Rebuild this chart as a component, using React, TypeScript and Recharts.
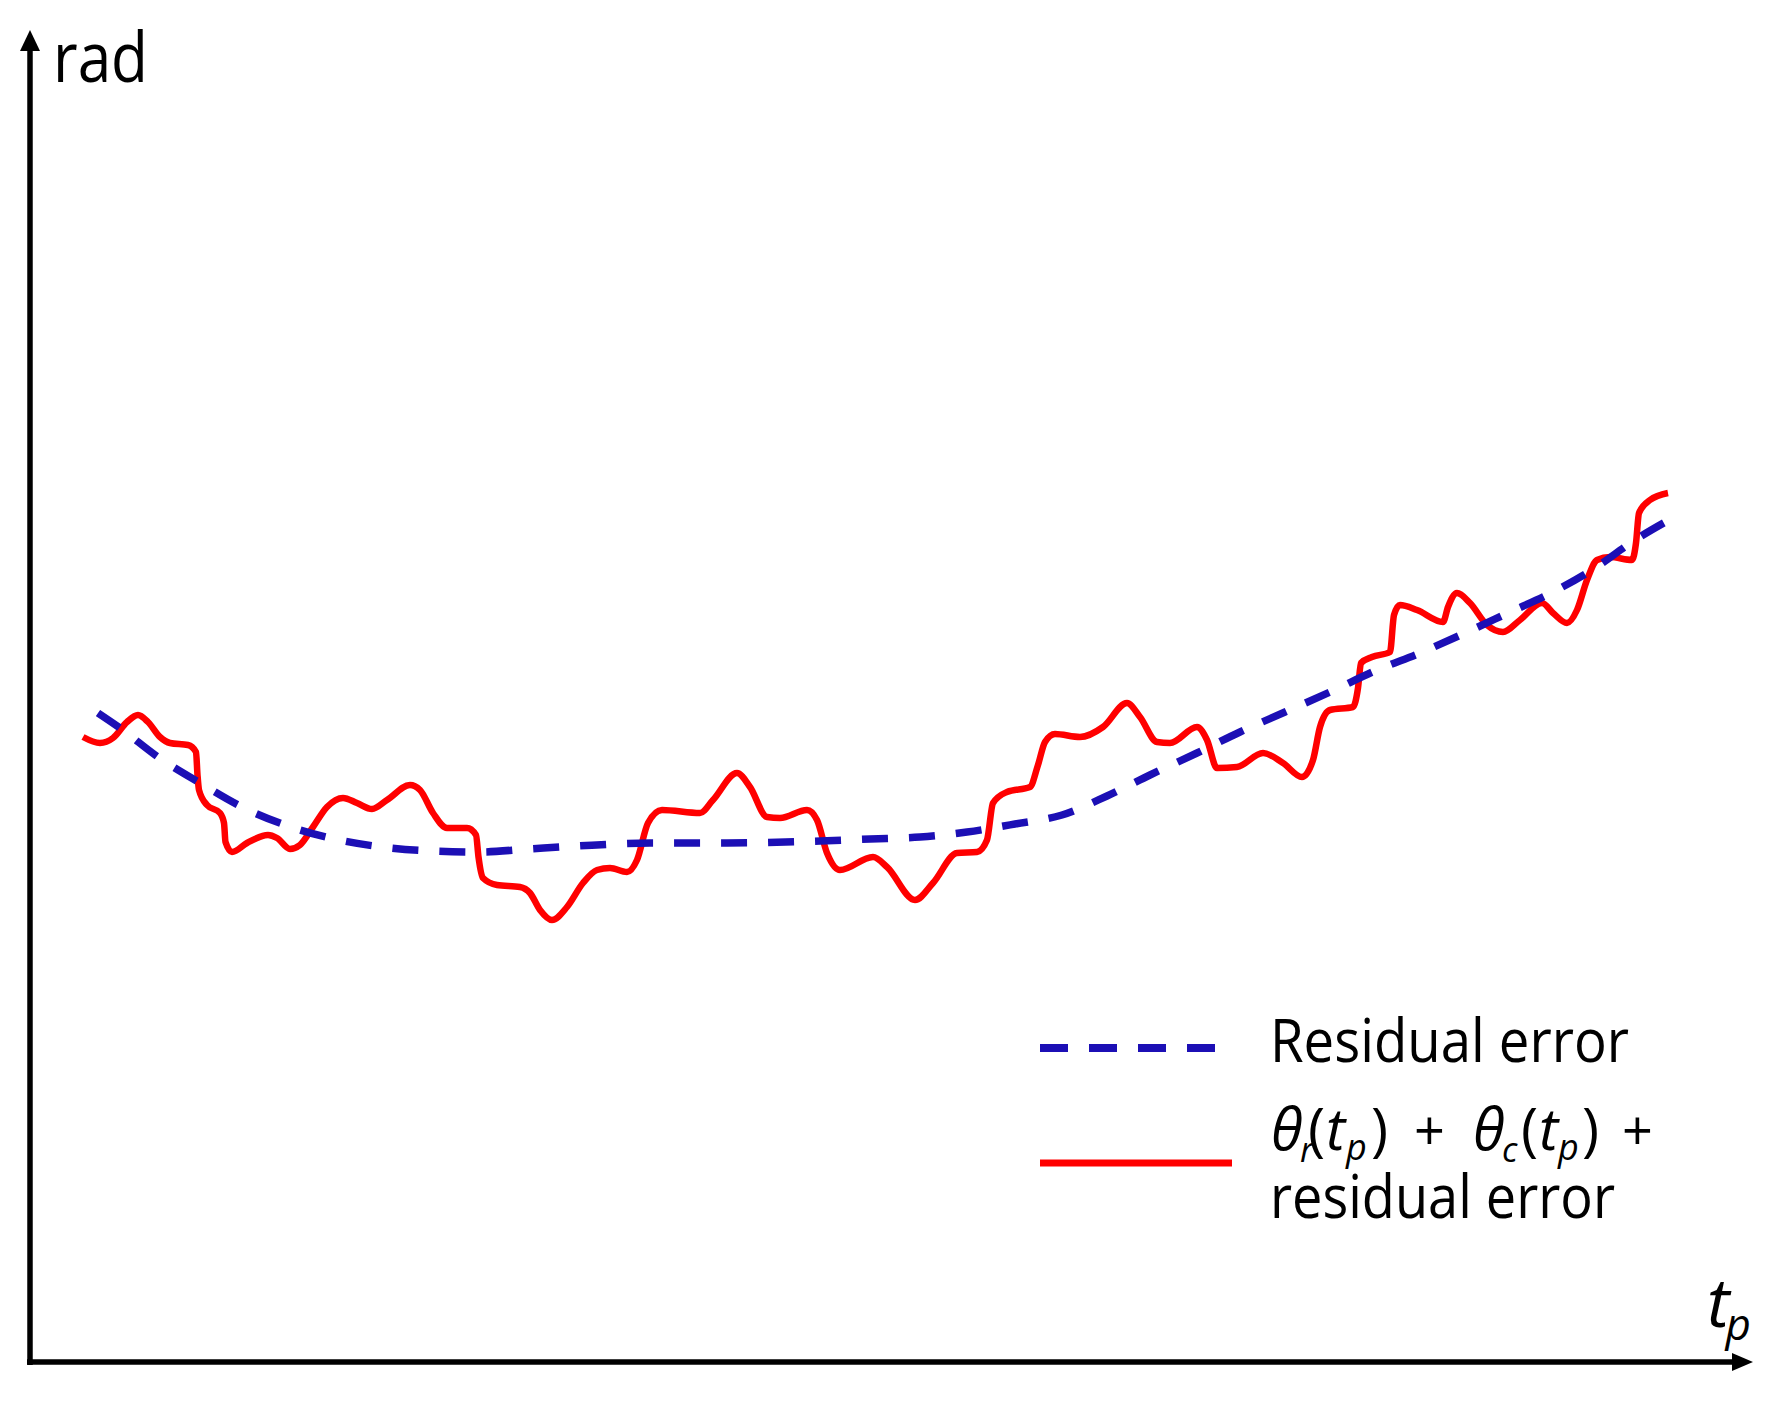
import React from 'react';
import { LineChart, Line, XAxis, YAxis, Customized } from 'recharts';

// t_p axis runs 0..172.3, rad axis 0..133.2 (arbitrary units, no ticks shown)
const T_MAX = 172.3;
const RAD_MAX = 133.2;

// blue dashed: residual error
const residualT = [6.8, 9.0, 12.8, 17.0, 21.2, 25.8, 30.0, 35.2, 40.2, 45.0, 49.8, 54.7, 62.0, 69.5, 79.0, 84.0, 89.0, 93.7, 98.5, 103.2, 107.7, 112.0, 116.7, 121.0, 125.5, 130.0, 134.7, 139.0, 143.5, 147.8, 152.3, 156.5, 160.5, 164.8];
const residualRad = [64.9, 63.4, 60.5, 57.9, 55.5, 53.6, 52.4, 51.5, 51.1, 51.0, 51.3, 51.6, 51.9, 51.9, 52.1, 52.3, 52.5, 53.0, 53.8, 54.7, 56.6, 58.7, 60.9, 63.0, 65.0, 67.0, 69.2, 70.9, 72.9, 74.9, 77.0, 79.4, 82.2, 84.7];

// red solid: theta_r + theta_c + residual error
const totalT = [5.3, 7.0, 8.3, 9.7, 10.8, 11.8, 13.0, 14.0, 15.8, 16.6, 16.75, 16.9, 17.7, 19.0, 19.4, 19.55, 20.2, 21.7, 23.8, 24.7, 26.0, 27.0, 28.3, 29.7, 31.3, 32.7, 34.2, 35.7, 38.0, 39.0, 40.3, 41.7, 43.7, 44.6, 44.85, 45.3, 46.7, 49.0, 50.0, 51.0, 52.2, 53.7, 55.3, 56.7, 58.0, 59.7, 60.7, 61.8, 63.2, 67.0, 68.3, 70.7, 72.0, 73.7, 75.0, 77.7, 78.7, 79.7, 81.0, 84.3, 85.7, 88.5, 90.3, 92.7, 94.7, 95.7, 96.3, 97.7, 100.0, 100.8, 101.5, 102.5, 105.0, 107.3, 109.7, 111.0, 112.7, 114.0, 116.7, 117.7, 118.7, 120.7, 123.3, 125.3, 127.2, 128.3, 129.0, 130.0, 132.3, 132.8, 133.1, 134.2, 136.0, 136.4, 137.0, 138.7, 141.3, 141.8, 142.7, 144.0, 145.7, 147.3, 149.0, 151.2, 152.3, 153.7, 154.7, 155.7, 156.7, 158.0, 160.2, 160.6, 160.9, 162.0, 163.8];
const totalRad = [62.5, 61.9, 62.4, 64.0, 64.7, 64.0, 62.5, 61.9, 61.7, 61.0, 58.7, 57.2, 55.7, 54.9, 53.9, 52.0, 51.0, 51.9, 52.7, 52.4, 51.3, 51.7, 53.5, 55.5, 56.4, 55.9, 55.3, 56.2, 57.7, 57.2, 54.9, 53.4, 53.4, 52.7, 50.5, 48.4, 47.7, 47.5, 46.9, 45.2, 44.2, 45.5, 47.9, 49.2, 49.4, 49.0, 50.2, 53.9, 55.2, 54.9, 56.2, 58.9, 57.5, 54.5, 54.4, 55.2, 54.2, 50.9, 49.2, 50.5, 49.5, 46.2, 47.9, 50.9, 51.0, 52.2, 55.9, 57.0, 57.5, 59.7, 62.0, 62.8, 62.5, 63.5, 65.9, 64.5, 62.0, 61.9, 63.5, 62.2, 59.4, 59.5, 60.9, 59.9, 58.5, 60.2, 63.5, 65.2, 65.5, 67.4, 69.9, 70.5, 71.0, 74.7, 75.7, 75.2, 74.0, 75.5, 76.9, 75.9, 73.7, 73.0, 74.2, 75.9, 74.9, 73.9, 75.2, 78.2, 80.2, 80.5, 80.2, 81.9, 84.9, 86.2, 86.9];

const residualData = residualT.map((t, i) => ({ t, rad: residualRad[i] }));
const totalData = totalT.map((t, i) => ({ t, rad: totalRad[i] }));

const BLUE = '#1c0fb5';
const RED = '#ff0000';
const FONT = '"Open Sans", "Noto Sans", sans-serif';

const W = 1784;
const H = 1409;
const M = { top: 30, right: 31, bottom: 47, left: 30 };

const Overlay = () => {
  const x0 = M.left;
  const y0 = H - M.bottom;
  const xEnd = W - M.right;
  const yTop = M.top;
  return (
    <g fill="#000" fontFamily={FONT}>
      {/* axes */}
      <line x1={x0} y1={y0 + 3} x2={x0} y2={yTop + 18} stroke="#000" strokeWidth={5.5} />
      <polygon points={`${x0},${yTop} ${x0 - 10},${yTop + 21} ${x0 + 10},${yTop + 21}`} fill="#000" />
      <line x1={x0 - 3} y1={y0} x2={xEnd - 18} y2={y0} stroke="#000" strokeWidth={5.5} />
      <polygon points={`${xEnd},${y0} ${xEnd - 21},${y0 - 9} ${xEnd - 21},${y0 + 9}`} fill="#000" />

      <text x={53} y={82} fontSize={70} textLength={95} lengthAdjust="spacingAndGlyphs">rad</text>
      <text x={1707} y={1327} fontSize={68} fontStyle="italic">
        t<tspan fontSize={44} dy={13} dx={-4}>p</tspan>
      </text>

      {/* legend */}
      <line x1={1040} y1={1048} x2={1215} y2={1048} stroke={BLUE} strokeWidth={8} strokeDasharray="28 21" />
      <line x1={1040} y1={1163} x2={1232} y2={1163} stroke={RED} strokeWidth={7} />
      <text x={1270} y={1062} fontSize={60} textLength={359} lengthAdjust="spacingAndGlyphs">Residual error</text>

      <text fontSize={58}>
        <tspan x={1271} y={1150} fontStyle="italic">θ</tspan>
        <tspan x={1300} y={1162} fontSize={34} fontStyle="italic">r</tspan>
        <tspan x={1308} y={1150}>(</tspan>
        <tspan x={1326} y={1150} fontStyle="italic">t</tspan>
        <tspan x={1346} y={1160} fontSize={36} fontStyle="italic">p</tspan>
        <tspan x={1371} y={1150}>)</tspan>
        <tspan x={1414} y={1150} fontSize={54}>+</tspan>
        <tspan x={1473} y={1150} fontStyle="italic">θ</tspan>
        <tspan x={1502} y={1162} fontSize={34} fontStyle="italic">c</tspan>
        <tspan x={1521} y={1150}>(</tspan>
        <tspan x={1539} y={1150} fontStyle="italic">t</tspan>
        <tspan x={1558} y={1160} fontSize={36} fontStyle="italic">p</tspan>
        <tspan x={1582} y={1150}>)</tspan>
        <tspan x={1622} y={1150} fontSize={54}>+</tspan>
      </text>

      <text x={1270} y={1218} fontSize={60} textLength={345} lengthAdjust="spacingAndGlyphs">residual error</text>
    </g>
  );
};

export default function App() {
  return (
    <div style={{ position: 'absolute', left: 0, top: 0, width: W, height: H, background: '#fff' }}>
      <LineChart width={W} height={H} margin={M}>
        <XAxis dataKey="t" type="number" domain={[0, T_MAX]} hide allowDataOverflow />
        <YAxis dataKey="rad" type="number" domain={[0, RAD_MAX]} hide allowDataOverflow />
        <Line data={totalData} dataKey="rad" type="monotone" stroke={RED} strokeWidth={6.5}
          dot={false} activeDot={false} isAnimationActive={false} />
        <Line data={residualData} dataKey="rad" type="monotone" stroke={BLUE} strokeWidth={7.5}
          strokeDasharray="26 21" dot={false} activeDot={false} isAnimationActive={false} />
        <Customized component={Overlay} />
      </LineChart>
    </div>
  );
}
